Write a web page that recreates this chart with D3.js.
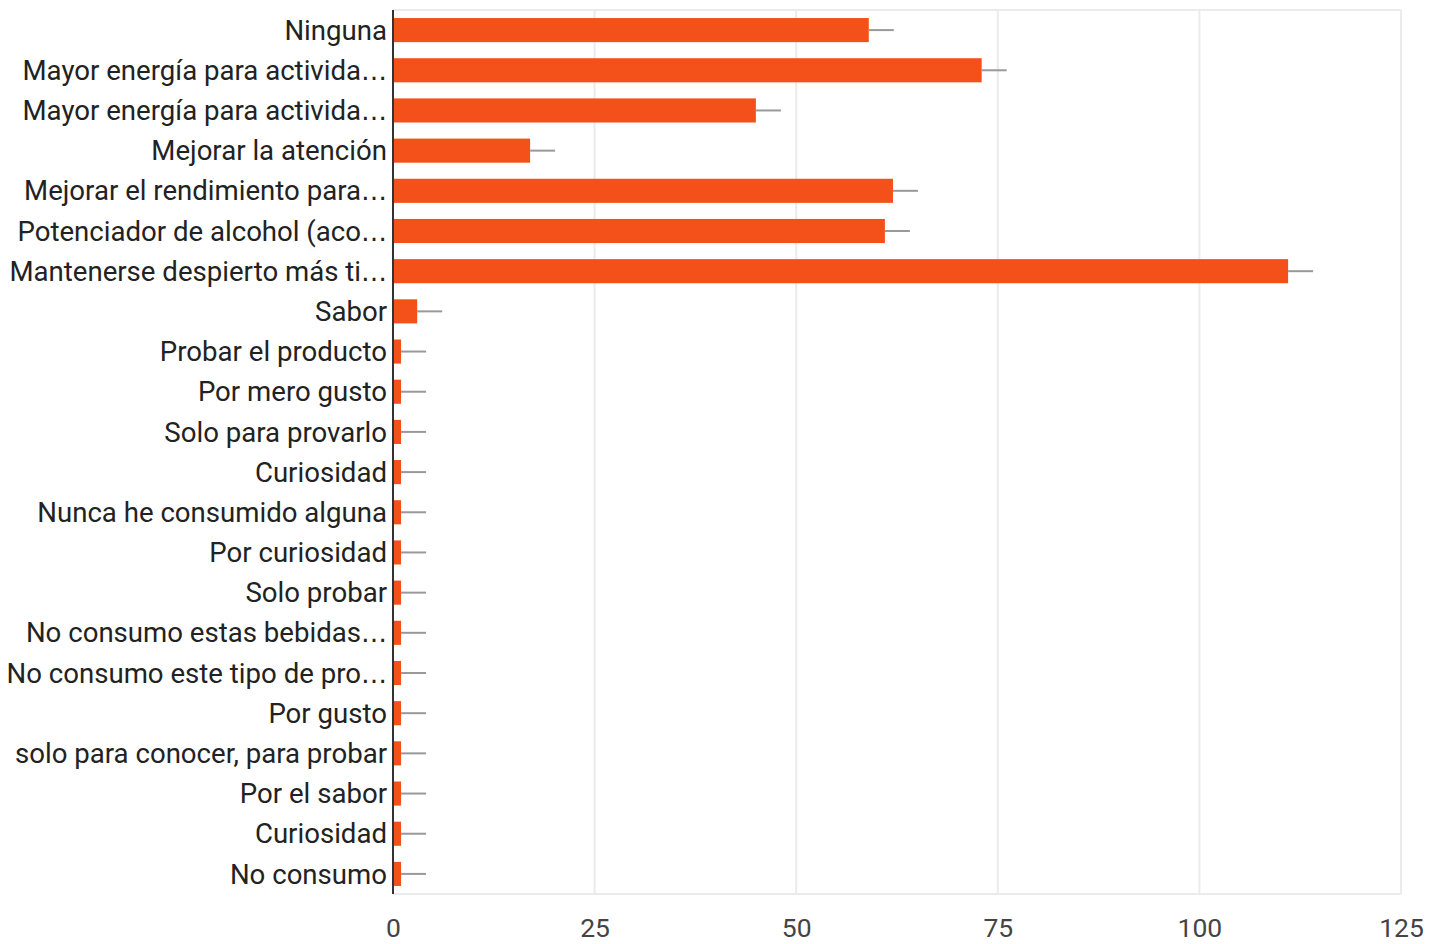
<!DOCTYPE html>
<html>
<head>
<meta charset="utf-8">
<script src="https://cdn.jsdelivr.net/npm/d3@7"></script>
<style>
  body { margin: 0; background: #fff; }
  text { font-family: Roboto, "Noto Sans", sans-serif; }
</style>
</head>
<body>
<svg></svg>
<script>
const categories = [
  "Ninguna",
  "Mayor energía para activida…",
  "Mayor energía para activida…",
  "Mejorar la atención",
  "Mejorar el rendimiento para…",
  "Potenciador de alcohol (aco…",
  "Mantenerse despierto más ti…",
  "Sabor",
  "Probar el producto",
  "Por mero gusto",
  "Solo para provarlo",
  "Curiosidad",
  "Nunca he consumido alguna",
  "Por curiosidad",
  "Solo probar",
  "No consumo estas bebidas…",
  "No consumo este tipo de pro…",
  "Por gusto",
  "solo para conocer, para probar",
  "Por el sabor",
  "Curiosidad",
  "No consumo"
];
const values = [59, 73, 45, 17, 62, 61, 111, 3, 1, 1, 1, 1, 1, 1, 1, 1, 1, 1, 1, 1, 1, 1];
const xTicks = [0, 25, 50, 75, 100, 125];

const width = 1441;
const height = 944;
const margin = { top: 10, right: 40, bottom: 50, left: 393 };
const innerW = 1401 - margin.left;
const innerH = 894 - margin.top;

const svg = d3.select("svg").attr("width", width).attr("height", height);

const xScale = d3.scaleLinear().domain([0, 125]).range([0, innerW]);
const yScale = d3
  .scaleBand()
  .domain(d3.range(categories.length))
  .range([0, innerH])
  .paddingInner(0.4)
  .paddingOuter(0.2);

const g = svg.append("g").attr("transform", `translate(${margin.left},${margin.top})`);

// grid + frame
g.append("g")
  .selectAll("line")
  .data(xTicks.slice(1))
  .enter()
  .append("line")
  .attr("x1", d => xScale(d))
  .attr("x2", d => xScale(d))
  .attr("y1", 0)
  .attr("y2", innerH)
  .attr("stroke", "#ebebeb")
  .attr("stroke-width", 2);

g.append("line")
  .attr("x1", 0).attr("x2", innerW)
  .attr("y1", 0).attr("y2", 0)
  .attr("stroke", "#ebebeb").attr("stroke-width", 2);
g.append("line")
  .attr("x1", 0).attr("x2", innerW)
  .attr("y1", innerH).attr("y2", innerH)
  .attr("stroke", "#ebebeb").attr("stroke-width", 2);

// bars
g.append("g")
  .selectAll("rect")
  .data(values)
  .enter()
  .append("rect")
  .attr("x", 0)
  .attr("y", (d, i) => yScale(i))
  .attr("width", d => xScale(d))
  .attr("height", yScale.bandwidth())
  .attr("fill", "#f35119");

// little gray lines after each bar
g.append("g")
  .selectAll("line")
  .data(values)
  .enter()
  .append("line")
  .attr("x1", d => xScale(d))
  .attr("x2", d => xScale(d) + 25)
  .attr("y1", (d, i) => yScale(i) + yScale.bandwidth() / 2)
  .attr("y2", (d, i) => yScale(i) + yScale.bandwidth() / 2)
  .attr("stroke", "#999")
  .attr("stroke-width", 2);

// y axis line
g.append("line")
  .attr("x1", 0).attr("x2", 0)
  .attr("y1", 0).attr("y2", innerH)
  .attr("stroke", "#333")
  .attr("stroke-width", 2);

// category labels (ellipsis drawn wider, like the original)
const labels = g.append("g")
  .selectAll("text")
  .data(categories)
  .enter()
  .append("text")
  .attr("x", -6)
  .attr("y", (d, i) => yScale(i) + yScale.bandwidth() / 2)
  .attr("dy", "0.35em")
  .attr("text-anchor", "end")
  .attr("font-size", 27.6)
  .attr("fill", "#222");

labels.append("tspan").text(d => d.replace("…", ""));
labels.filter(d => d.endsWith("…"))
  .append("tspan")
  .style("font-family", "'DejaVu Sans', sans-serif")
  .attr("font-size", 26)
  .text("…");

// x axis
const xAxis = d3.axisBottom(xScale).tickValues(xTicks).tickSize(0).tickPadding(24);
const ax = g.append("g").attr("transform", `translate(0,${innerH})`).call(xAxis);
ax.select(".domain").remove();
ax.selectAll("text")
  .attr("font-size", 26.5)
  .attr("fill", "#444")
  .style("font-family", "Roboto, 'Noto Sans', sans-serif");
</script>
</body>
</html>
